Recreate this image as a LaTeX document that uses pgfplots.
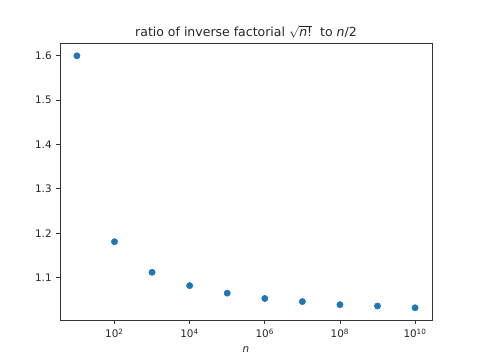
\documentclass[border=0pt]{standalone}
\usepackage{fontspec}
\setmainfont{DejaVu Sans}
\usepackage{pgfplots}
\pgfplotsset{compat=1.18}
\definecolor{tabblue}{HTML}{1F77B4}
\definecolor{spine}{HTML}{333333}
\begin{document}
\begin{tikzpicture}
\path[use as bounding box] (0,0) rectangle (360pt,270pt);
\begin{axis}[
  at={(45pt,29.7pt)}, anchor=south west,
  scale only axis, width=279pt, height=207.9pt,
  xmode=log, xmin=3.548, xmax=2.818e10,
  ymin=1.0036, ymax=1.6284,
  xtick={1e2,1e4,1e6,1e8,1e10},
  xticklabels={10\textsuperscript{2},10\textsuperscript{4},10\textsuperscript{6},10\textsuperscript{8},10\textsuperscript{10}},
  xminorticks=false, yminorticks=false,
  ytick={1.1,1.2,1.3,1.4,1.5,1.6},
  yticklabels={1.1,1.2,1.3,1.4,1.5,1.6},
  tick align=outside, tick pos=left,
  major tick length=2.73pt,
  axis line style={line width=0.6pt, spine},
  every tick/.style={line width=0.6pt, spine},
  tick label style={font=\fontsize{7.8pt}{9pt}\selectfont, text=black!85},
  title={ratio of inverse factorial $\sqrt{\mbox{\textit{n}!}}$~ to \textit{n}/2},
  title style={font=\fontsize{9.375pt}{11pt}\selectfont, text=black!85, yshift=-5.5pt},
  xlabel={\textit{n}},
  xlabel style={font=\fontsize{7.8pt}{9pt}\selectfont, text=black!85, yshift=0.5pt},
]
\addplot[only marks, mark=*, mark size=2.35pt, color=tabblue, mark options={draw=tabblue, fill=tabblue}]
coordinates {
(1e1,1.600) (1e2,1.181) (1e3,1.112) (1e4,1.082) (1e5,1.065)
(1e6,1.053) (1e7,1.046) (1e8,1.039) (1e9,1.036) (1e10,1.032)
};
\end{axis}
\end{tikzpicture}
\end{document}
